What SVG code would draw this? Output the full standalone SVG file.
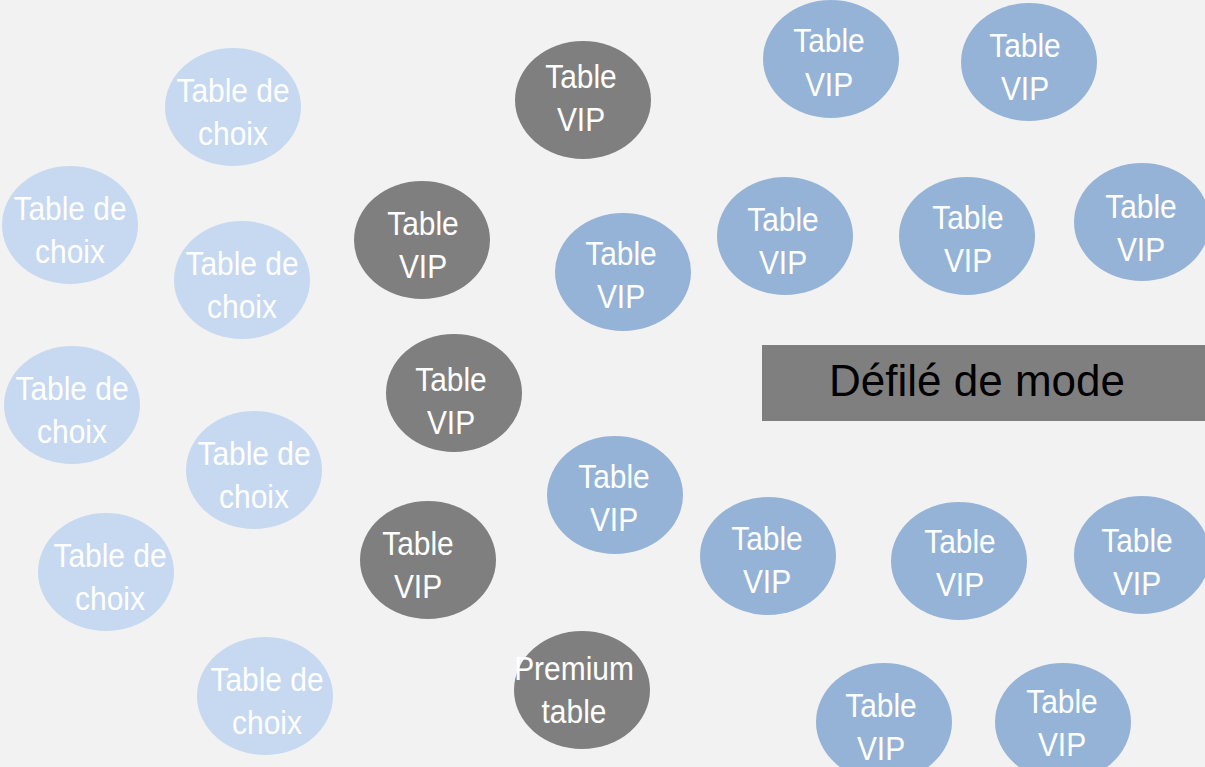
<svg xmlns="http://www.w3.org/2000/svg" width="1205" height="767" viewBox="0 0 1205 767">
<style>
.lb{fill:#c6d9f1}
.bl{fill:#95b3d7}
.gr{fill:#7f7f7f}
.t{font-family:"Liberation Sans",Arial,sans-serif;font-size:34px;fill:#ffffff;text-anchor:middle}
.big{font-family:"Liberation Sans",Arial,sans-serif;font-size:44px;fill:#000000;text-anchor:middle}
</style>
<rect width="1205" height="767" fill="#f2f2f2"/>
<g id="connectors"/>
<g id="choix1"><ellipse class="lb" cx="233" cy="107" rx="68" ry="59"/><text class="t" transform="translate(233,107) scale(0.88,1)"><tspan x="0" y="-5">Table de</tspan><tspan x="0" y="38">choix</tspan></text></g>
<g id="choix2"><ellipse class="lb" cx="70" cy="225" rx="68" ry="59"/><text class="t" transform="translate(70,225) scale(0.88,1)"><tspan x="0" y="-5">Table de</tspan><tspan x="0" y="38">choix</tspan></text></g>
<g id="choix3"><ellipse class="lb" cx="242" cy="280" rx="68" ry="59"/><text class="t" transform="translate(242,280) scale(0.88,1)"><tspan x="0" y="-5">Table de</tspan><tspan x="0" y="38">choix</tspan></text></g>
<g id="choix4"><ellipse class="lb" cx="72" cy="405" rx="68" ry="59"/><text class="t" transform="translate(72,405) scale(0.88,1)"><tspan x="0" y="-5">Table de</tspan><tspan x="0" y="38">choix</tspan></text></g>
<g id="choix5"><ellipse class="lb" cx="254" cy="470" rx="68" ry="59"/><text class="t" transform="translate(254,470) scale(0.88,1)"><tspan x="0" y="-5">Table de</tspan><tspan x="0" y="38">choix</tspan></text></g>
<g id="choix6"><ellipse class="lb" cx="106" cy="572" rx="68" ry="59"/><text class="t" transform="translate(110,572) scale(0.88,1)"><tspan x="0" y="-5">Table de</tspan><tspan x="0" y="38">choix</tspan></text></g>
<g id="choix7"><ellipse class="lb" cx="265" cy="696" rx="68" ry="59"/><text class="t" transform="translate(267,696) scale(0.88,1)"><tspan x="0" y="-5">Table de</tspan><tspan x="0" y="38">choix</tspan></text></g>
<g id="gvip1"><ellipse class="gr" cx="583" cy="100" rx="68" ry="59"/><text class="t" transform="translate(581,100) scale(0.88,1)"><tspan x="0" y="-12">Table</tspan><tspan x="0" y="31">VIP</tspan></text></g>
<g id="gvip2"><ellipse class="gr" cx="422" cy="240" rx="68" ry="59"/><text class="t" transform="translate(423,240) scale(0.88,1)"><tspan x="0" y="-5">Table</tspan><tspan x="0" y="38">VIP</tspan></text></g>
<g id="gvip3"><ellipse class="gr" cx="454" cy="393" rx="68" ry="59"/><text class="t" transform="translate(451,393) scale(0.88,1)"><tspan x="0" y="-2">Table</tspan><tspan x="0" y="41">VIP</tspan></text></g>
<g id="gvip4"><ellipse class="gr" cx="428" cy="560" rx="68" ry="59"/><text class="t" transform="translate(418,560) scale(0.88,1)"><tspan x="0" y="-5">Table</tspan><tspan x="0" y="38">VIP</tspan></text></g>
<g id="premium"><ellipse class="gr" cx="582" cy="690" rx="68" ry="59"/><text class="t" transform="translate(574,690) scale(0.88,1)"><tspan x="0" y="-10">Premium</tspan><tspan x="0" y="33">table</tspan></text></g>
<g id="vip1"><ellipse class="bl" cx="831" cy="59" rx="68" ry="59"/><text class="t" transform="translate(829,59) scale(0.88,1)"><tspan x="0" y="-7">Table</tspan><tspan x="0" y="37">VIP</tspan></text></g>
<g id="vip2"><ellipse class="bl" cx="1029" cy="62" rx="68" ry="59"/><text class="t" transform="translate(1025,62) scale(0.88,1)"><tspan x="0" y="-5">Table</tspan><tspan x="0" y="38">VIP</tspan></text></g>
<g id="vip3"><ellipse class="bl" cx="623" cy="272" rx="68" ry="59"/><text class="t" transform="translate(621,272) scale(0.88,1)"><tspan x="0" y="-7">Table</tspan><tspan x="0" y="36">VIP</tspan></text></g>
<g id="vip4"><ellipse class="bl" cx="785" cy="236" rx="68" ry="59"/><text class="t" transform="translate(783,236) scale(0.88,1)"><tspan x="0" y="-5">Table</tspan><tspan x="0" y="38">VIP</tspan></text></g>
<g id="vip5"><ellipse class="bl" cx="967" cy="236" rx="68" ry="59"/><text class="t" transform="translate(968,236) scale(0.88,1)"><tspan x="0" y="-7">Table</tspan><tspan x="0" y="36">VIP</tspan></text></g>
<g id="vip6"><ellipse class="bl" cx="1142" cy="222" rx="68" ry="59"/><text class="t" transform="translate(1141,222) scale(0.88,1)"><tspan x="0" y="-4">Table</tspan><tspan x="0" y="39">VIP</tspan></text></g>
<g id="vip7"><ellipse class="bl" cx="615" cy="495" rx="68" ry="59"/><text class="t" transform="translate(614,495) scale(0.88,1)"><tspan x="0" y="-7">Table</tspan><tspan x="0" y="36">VIP</tspan></text></g>
<g id="vip8"><ellipse class="bl" cx="768" cy="556" rx="68" ry="59"/><text class="t" transform="translate(767,556) scale(0.88,1)"><tspan x="0" y="-6">Table</tspan><tspan x="0" y="37">VIP</tspan></text></g>
<g id="vip9"><ellipse class="bl" cx="959" cy="561" rx="68" ry="59"/><text class="t" transform="translate(960,561) scale(0.88,1)"><tspan x="0" y="-8">Table</tspan><tspan x="0" y="35">VIP</tspan></text></g>
<g id="vip10"><ellipse class="bl" cx="1142" cy="555" rx="68" ry="59"/><text class="t" transform="translate(1137,555) scale(0.88,1)"><tspan x="0" y="-3">Table</tspan><tspan x="0" y="40">VIP</tspan></text></g>
<g id="vip11"><ellipse class="bl" cx="884" cy="722" rx="68" ry="59"/><text class="t" transform="translate(881,722) scale(0.88,1)"><tspan x="0" y="-5">Table</tspan><tspan x="0" y="38">VIP</tspan></text></g>
<g id="vip12"><ellipse class="bl" cx="1063" cy="722" rx="68" ry="59"/><text class="t" transform="translate(1062,722) scale(0.88,1)"><tspan x="0" y="-9">Table</tspan><tspan x="0" y="34">VIP</tspan></text></g>
<g id="defile"><rect class="gr" x="762" y="345" width="443" height="76"/><text class="big" x="977" y="396">Défilé de mode</text></g>
</svg>
